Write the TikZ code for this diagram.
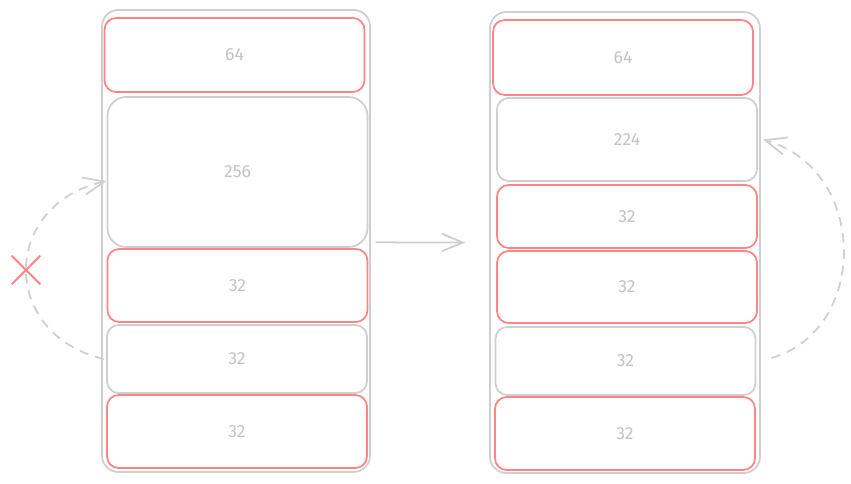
\documentclass[tikz,border=0pt]{standalone}
\usepackage{fontspec}
\setmainfont{Fira Sans}
\usetikzlibrary{arrows.meta,shapes.misc}
\definecolor{sketchgray}{HTML}{CFCFCF}
\definecolor{sketchred}{HTML}{FF8585}
\definecolor{labelgray}{HTML}{C4C4C4}
\begin{document}
\begin{tikzpicture}[
        x=0.03cm, y=-0.03cm,
        font=\fontsize{15}{17}\selectfont,
        container/.style={
            rectangle, draw=sketchgray, line width=1.5pt,
            rounded corners=14pt, minimum width=8.04cm,
            minimum height=13.86cm
        },
        usedblock/.style={
            rectangle, draw=sketchred, line width=1.5pt,
            fill=white, rounded corners=10pt, minimum width=7.8cm,
            text=labelgray
        },
        freeblock/.style={
            rectangle, draw=sketchgray, line width=1.5pt,
            fill=white, rounded corners=10pt, minimum width=7.8cm,
            text=labelgray
        },
        arr/.style={-{Straight Barb[length=18pt, width=15pt]},
            draw=sketchgray, line width=1.5pt},
        dasharr/.style={arr, dash pattern=on 8pt off 6pt}
    ]
    \useasboundingbox (0,0) rectangle (851,484);

    % Left heap
    \node[container] (lbox) at (236,241) {};
    \node[usedblock, minimum height=2.22cm] (l64) at (234.5,55) {64};
    \node[freeblock, minimum height=4.5cm, rounded corners=16pt]
        (l256) at (237.5,172) {256};
    \node[usedblock, minimum height=2.19cm] (l32a) at (237.5,285.5) {32};
    \node[freeblock, minimum height=2.04cm] (l32b) at (237,359) {32};
    \node[usedblock, minimum height=2.19cm] (l32c) at (237,431.5) {32};

    % Right heap
    \node[container, minimum width=8.1cm, minimum height=13.83cm]
        (rbox) at (625,242.5) {};
    \node[usedblock, minimum height=2.25cm] (r64) at (623,57.5) {64};
    \node[freeblock, minimum height=2.49cm] (r224) at (627,139.5) {224};
    \node[usedblock, minimum height=1.89cm] (r32a) at (627,216.5) {32};
    \node[usedblock, minimum height=2.16cm] (r32b) at (627,287) {32};
    \node[freeblock, minimum height=2.04cm] (r32c) at (625.5,361) {32};
    \node[usedblock, minimum height=2.19cm] (r32d) at (625,433.5) {32};

    % Step between the two heaps
    \draw[arr, shorten <=4pt]
        ([yshift=-0.04cm]lbox.east) -- ([xshift=-0.72cm]rbox.west);

    % Merge that is not allowed
    \draw[dasharr]
        ([xshift=-0.06cm]l32b.west) .. controls (0,335) and (0,205) ..
        ([yshift=-0.27cm]l256.west);
    \node[cross out, draw=sketchred, line width=1.6pt,
        minimum size=0.8cm] (blocked) at (26,270) {};

    % Merge into the free block
    \draw[dasharr]
        ([xshift=0.45cm, yshift=0.09cm]r32c.east) .. controls (869,330)
        and (869,170) .. ([xshift=0.15cm]r224.east);

    \end{tikzpicture}
\end{document}
